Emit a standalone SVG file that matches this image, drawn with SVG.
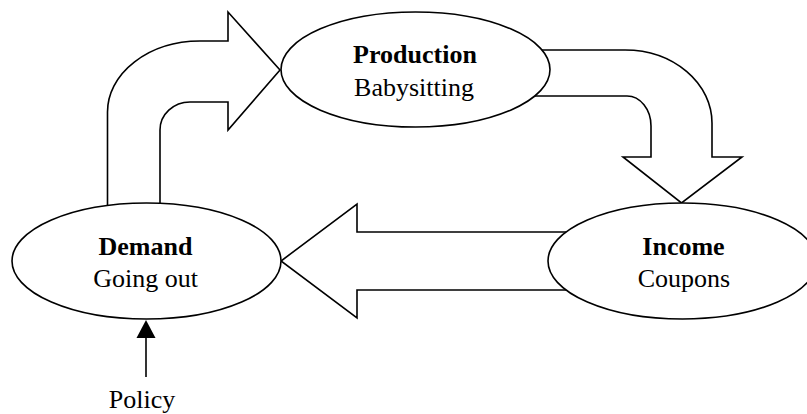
<svg xmlns="http://www.w3.org/2000/svg" width="807" height="414" viewBox="0 0 807 414">
<style>
.c{fill:#fff;stroke:#000;stroke-width:1.6;stroke-linejoin:miter}
.n{fill:#fff;stroke:#000;stroke-width:1.6}
text{font-family:"Liberation Serif","Times New Roman",serif;font-size:26px;fill:#000;text-anchor:middle}
.b{font-weight:bold}
</style>
<rect width="807" height="414" fill="#fff"/>
<g id="connectors">
<path class="c" d="M107.5 240 L107.5 112 A92.5 71 0 0 1 200 41 L228 41 L228 12 L280 70 L228 130 L228 102 L190 102 A30 28 0 0 0 160 130 L160 240 Z"/>
<path class="c" d="M500 50 L625 50 A87 73 0 0 1 712 123 L712 157 L742 157 L681.5 203 L623 157 L651 157 L651 126 A24 30 0 0 0 627 96 L500 96 Z"/>
<path class="c" d="M620 232 L357 232 L357 204 L281 261 L357 318 L357 290 L620 290 Z"/>
<line x1="146" y1="377" x2="146" y2="336" stroke="#000" stroke-width="1.6"/>
<polygon points="146,320 136.5,338 155.5,338" fill="#000"/>
</g>
<g id="production">
<ellipse class="n" cx="415.5" cy="69.5" rx="134.5" ry="57.5"/>
<text class="b" x="415" y="63">Production</text>
<text x="414" y="96">Babysitting</text>
</g>
<g id="demand">
<ellipse class="n" cx="146.5" cy="261" rx="134.5" ry="58"/>
<text class="b" x="145.5" y="255">Demand</text>
<text x="145.5" y="287">Going out</text>
</g>
<g id="income">
<ellipse class="n" cx="682.5" cy="261" rx="134.5" ry="58"/>
<text class="b" x="683.5" y="255">Income</text>
<text x="684" y="287">Coupons</text>
</g>
<g id="policy">
<text x="142" y="408">Policy</text>
</g>
</svg>
